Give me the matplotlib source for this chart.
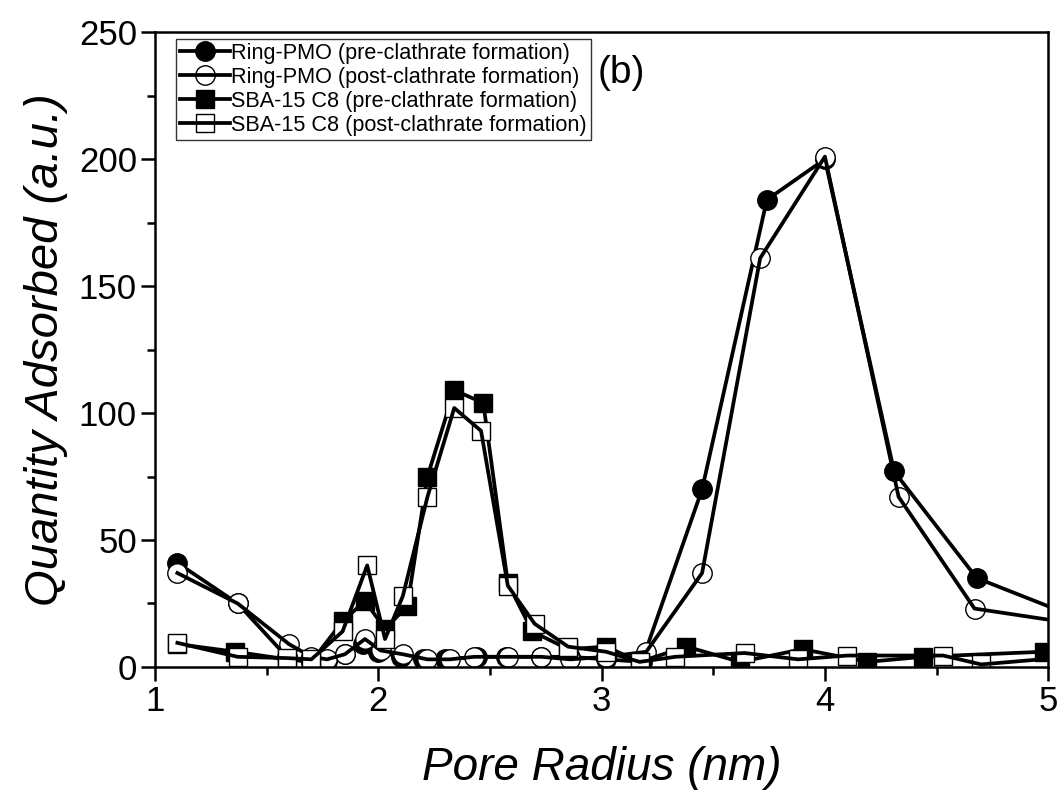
import numpy as np
import matplotlib
matplotlib.use("Agg")
import matplotlib.pyplot as plt
from matplotlib.lines import Line2D

plt.rcParams['font.family'] = ['Liberation Sans', 'DejaVu Sans']

# Ring-PMO, before / after clathrate formation
ring_pre_x = [1.10, 1.37, 1.59, 1.70, 1.77, 1.85, 1.93, 2.00, 2.10, 2.20, 2.30, 2.44, 2.57, 2.73, 2.86,
              3.02, 3.18, 3.45, 3.74, 4.00, 4.31, 4.68, 5.20]
ring_pre_y = [41, 25, 4, 2, 2.5, 5, 9, 6, 4, 3, 3, 4, 4, 4, 4,
              3, 2, 70, 184, 200, 77, 35, 17]
ring_post_x = [1.10, 1.37, 1.60, 1.70, 1.77, 1.85, 1.94, 2.01, 2.11, 2.22, 2.32, 2.43, 2.58, 2.73, 2.86,
               3.02, 3.20, 3.45, 3.71, 4.00, 4.33, 4.67, 5.20]
ring_post_y = [37, 25, 9, 4, 3, 5, 11, 6.5, 5, 3, 3, 4, 4, 4, 3,
               4, 6, 37, 161, 201, 67, 23, 16]

# SBA-15 C8, before / after clathrate formation
sba_pre_x = [1.10, 1.36, 1.59, 1.70, 1.84, 1.94, 2.03, 2.13, 2.22, 2.34, 2.47, 2.58, 2.69, 2.85,
             3.02, 3.17, 3.38, 3.62, 3.90, 4.19, 4.44, 4.98]
sba_pre_y = [9, 6, 3, 2, 18, 26, 15, 24, 75, 109, 104, 33, 14, 7,
             8, 2, 8, 2, 7, 2, 4, 6]
sba_post_x = [1.10, 1.37, 1.59, 1.70, 1.84, 1.95, 2.03, 2.11, 2.22, 2.34, 2.46, 2.58, 2.70, 2.85,
              3.02, 3.17, 3.33, 3.64, 3.88, 4.10, 4.53, 4.70, 5.10]
sba_post_y = [9.5, 4, 3.5, 3, 14, 40, 11, 28, 67, 102, 93, 32, 17, 8,
              6, 2, 4, 5.5, 3, 4.5, 4.5, 1, 4]

labels = ['Ring-PMO (pre-clathrate formation)',
          'Ring-PMO (post-clathrate formation)',
          'SBA-15 C8 (pre-clathrate formation)',
          'SBA-15 C8 (post-clathrate formation)']

fig = plt.figure(figsize=(10.62, 8.06), dpi=100)
ax = fig.add_axes([0.146, 0.1725, 0.841, 0.7875])

lw = 2.7
ms_c = 14
ms_s = 12.5

# filled series: line + markers; open series: white markers with their own line on top
ax.plot(ring_pre_x, ring_pre_y, '-o', color='black', lw=lw, ms=ms_c, mfc='black', mec='black', zorder=2.0)
ax.plot(ring_post_x, ring_post_y, 'o', ms=ms_c, mfc='white', mec='black', mew=1.0, zorder=2.1)
ax.plot(ring_post_x, ring_post_y, '-', color='black', lw=lw, zorder=2.2)
ax.plot(sba_pre_x, sba_pre_y, '-s', color='black', lw=lw, ms=ms_s, mfc='black', mec='black', zorder=2.3)
ax.plot(sba_post_x, sba_post_y, 's', ms=ms_s, mfc='white', mec='black', mew=1.0, zorder=2.4)
ax.plot(sba_post_x, sba_post_y, '-', color='black', lw=lw, zorder=2.5)

ax.set_xlim(1, 5)
ax.set_ylim(0, 250)
ax.set_xticks([1, 2, 3, 4, 5])
ax.set_xticks(np.arange(1.5, 5, 1.0), minor=True)
ax.set_yticks(np.arange(0, 251, 50))
ax.set_yticks(np.arange(25, 250, 50), minor=True)

for s in ax.spines.values():
    s.set_linewidth(1.8)
ax.tick_params(which='major', direction='out', length=10, width=1.8, labelsize=25, pad=3)
ax.tick_params(which='minor', direction='out', length=6, width=1.8)

ax.set_xlabel('Pore Radius (nm)', fontsize=33, style='italic', labelpad=20)
ax.set_ylabel('Quantity Adsorbed (a.u.)', fontsize=34, style='italic', labelpad=8)

ax.text(3.09, 234, '(b)', fontsize=28, ha='center', va='center')

handles = [
    Line2D([], [], color='black', lw=lw, marker='o', ms=ms_c, mfc='black', mec='black'),
    Line2D([], [], color='black', lw=lw, marker='o', ms=ms_c, mfc='none', mec='black', mew=1.0),
    Line2D([], [], color='black', lw=lw, marker='s', ms=ms_s, mfc='black', mec='black'),
    Line2D([], [], color='black', lw=lw, marker='s', ms=ms_s, mfc='none', mec='black', mew=1.0),
]
leg = ax.legend(handles, labels, loc='upper left', bbox_to_anchor=(0.023, 0.99), fontsize=15.6,
                frameon=True, fancybox=False, edgecolor='black', handlelength=2.3, handletextpad=0.05,
                labelspacing=0.14, borderpad=0.2, borderaxespad=0)
leg.get_frame().set_linewidth(1.0)

fig.savefig('out.png', dpi=100)
